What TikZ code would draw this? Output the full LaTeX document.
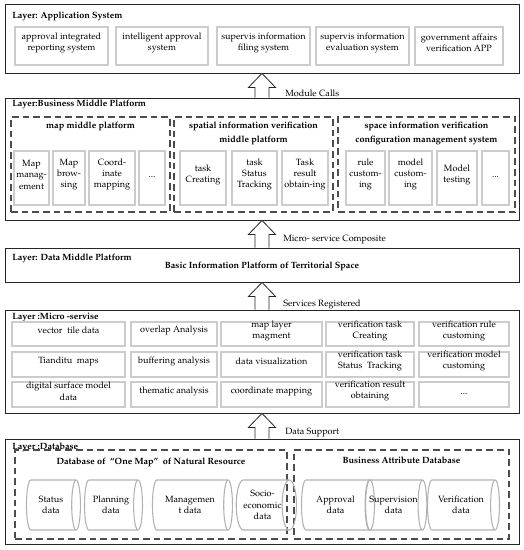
\documentclass[tikz,border=0pt]{standalone}
\usepackage[T1]{fontenc}
\usepackage{mathpazo}
\usetikzlibrary{fit,calc,shapes.geometric}
\begin{document}
\begin{tikzpicture}[x=0.75pt,y=-0.75pt,
  font=\fontsize{6.8}{8.4}\selectfont,
  layer/.style={draw=black!85, line width=0.6pt, inner sep=0pt},
  ibox/.style={draw=black!20, line width=0.9pt, inner sep=0pt, align=center},
  dbox/.style={draw=black!70, line width=0.8pt, dash pattern=on 5pt off 3pt, inner sep=0pt},
  ttl/.style={font=\fontsize{6.8}{8.4}\selectfont\bfseries, anchor=west, inner sep=0pt},
  sub/.style={font=\fontsize{6.8}{10.2}\selectfont\bfseries, align=center, anchor=north, inner sep=0pt},
  cyl/.style={cylinder, draw=black!30, line width=0.8pt, aspect=0.5, inner sep=0pt, align=center, minimum width=37.5pt},
  lbl/.style={anchor=west, inner sep=0pt},
  arr/.style={draw=black!85, line width=0.6pt, fill=white}]
\useasboundingbox (0,0) rectangle (524,550);

% ---------- Layer 1 ----------
\node[layer, fit={(5,4)(519,73)}] (L1) {};
\node[ttl] (T1) at (12,16) {Layer: Application System};
\node[ibox, fit={(15,27)(108,65)}] (a1) {approval integrated\\reporting system};
\node[ibox, fit={(116,27)(208,65)}] (a2) {intelligent approval\\system};
\node[ibox, fit={(217,27)(310,65)}] (a3) {supervis information\\filing system};
\node[ibox, fit={(316,27)(409,65)}] (a4) {supervis information\\evaluation system};
\node[ibox, fit={(415,27)(503,65)}] (a5) {government affairs\\verification APP};

% ---------- Layer 2 ----------
\node[layer, fit={(5,98)(519,220)}] (L2) {};
\node[ttl] (T2) at (12,104) {Layer:Business Middle Platform};
\node[dbox, fit={(11,117)(170,212)}] (D1) {};
\node[dbox, fit={(174,117)(333,212)}] (D2) {};
\node[dbox, fit={(338,117)(515,212)}] (D3) {};
\node[sub] (S1) at (90.5,122) {map middle platform};
\node[sub] (S2) at (253.5,122) {spatial information verification\\middle platform};
\node[sub] (S3) at (426.5,122) {space information verification\\configuration management system};
\node[ibox, fit={(14,151)(49,205)}] (b1) {Map\\manag-\\ement};
\node[ibox, fit={(53,151)(85,205)}] (b2) {Map\\brow-\\sing};
\node[ibox, fit={(89,151)(135,205)}] (b3) {Coord-\\inate\\mapping};
\node[ibox, fit={(139,151)(165,205)}] (b4) {...};
\node[ibox, fit={(180,151)(226,205)}] (b5) {task\\Creating};
\node[ibox, fit={(232,151)(277,205)}] (b6) {task\\Status\\Tracking};
\node[ibox, fit={(282,151)(328,205)}] (b7) {Task\\result\\obtain-ing};
\node[ibox, fit={(346,151)(385,205)}] (b8) {rule\\custom-\\ing};
\node[ibox, fit={(389,151)(432,205)}] (b9) {model\\custom-\\ing};
\node[ibox, fit={(437,151)(477,205)}] (b10) {Model\\testing};
\node[ibox, fit={(482,151)(509,205)}] (b11) {...};

% ---------- Layer 3 ----------
\node[layer, fit={(5,248)(519,282)}] (L3) {};
\node[ttl] (T3) at (12,258) {Layer: Data Middle Platform};
\node[font=\fontsize{6.8}{8.4}\selectfont\bfseries, inner sep=0pt] (P3) at (262,266) {Basic Information Platform of Territorial Space};

% ---------- Layer 4 ----------
\node[layer, fit={(5,310)(519,413)}] (L4) {};
\node[ttl] (T4) at (12,317) {Layer :Micro -servise};
\node[ibox, fit={(12,322)(125,346)}] (m11) {vector~ tile data};
\node[ibox, fit={(131,322)(217,346)}] (m12) {overlap Analysis};
\node[ibox, fit={(221,322)(322,346)}] (m13) {map layer\\magment};
\node[ibox, fit={(326,322)(414,346)}] (m14) {verification task\\Creating};
\node[ibox, fit={(419,322)(509,346)}] (m15) {verification rule\\customing};
\node[ibox, fit={(12,352)(125,377)}] (m21) {Tianditu~ maps};
\node[ibox, fit={(131,352)(217,377)}] (m22) {buffering analysis};
\node[ibox, fit={(221,352)(322,377)}] (m23) {data visualization};
\node[ibox, fit={(326,352)(414,377)}] (m24) {verification task\\Status~ Tracking};
\node[ibox, fit={(419,352)(509,377)}] (m25) {verification model\\customing};
\node[ibox, fit={(12,382)(125,407)}] (m31) {digital surface model\\data};
\node[ibox, fit={(131,382)(217,407)}] (m32) {thematic analysis};
\node[ibox, fit={(221,382)(322,407)}] (m33) {coordinate mapping};
\node[ibox, fit={(326,382)(414,407)}] (m34) {verification result\\obtaining};
\node[ibox, fit={(419,382)(509,407)}] (m35) {...};

% ---------- Layer 5 ----------
\node[layer, fit={(5,439)(519,544)}] (L5) {};
\node[ttl] (T5) at (12,447) {Layer :Database};
\node[dbox, fit={(15,450)(287,539)}] (D4) {};
\node[dbox, fit={(294,450)(509,539)}] (D5) {};
\node[sub] (S4) at (151,458) {Database of \ ``One Map'' \ of Natural Resource};
\node[sub] (S5) at (401.5,457) {Business Attribute Database};
\node[cyl, minimum height=40.5pt] (c1) at (51,505) {Status\\data};
\node[cyl, minimum height=43.5pt] (c2) at (111,505) {Planning\\data};
\node[cyl, minimum height=60pt] (c3) at (190,505) {Managemen\\t data};
\node[cyl, minimum height=31pt] (c4) at (262.5,505) {Socio-\\economic\\data};
\node[cyl, minimum height=54.75pt] (c5) at (335.5,505) {Approval\\data};
\node[cyl, minimum height=42.75pt] (c6) at (393.5,505) {Supervision\\data};
\node[cyl, minimum height=54pt] (c7) at (461,505) {Verification\\data};

% ---------- Block arrows ----------
\foreach \lo/\up in {L2/L1, L3/L2, L4/L3, L5/L4}{
  \draw[arr] ($(\lo.north)+(-7,0)$) -- ($(\up.south)+(-7,14)$) -- ($(\up.south)+(-13.5,14)$)
    -- (\up.south) -- ($(\up.south)+(13.5,14)$) -- ($(\up.south)+(7,14)$) -- ($(\lo.north)+(7,0)$);
}
\node[lbl] (n1) at (285,93) {Module Calls};
\node[lbl] (n2) at (283,240) {Micro- service Composite};
\node[lbl] (n3) at (283,304) {Services Registered};
\node[lbl] (n4) at (285,433) {Data Support};
\end{tikzpicture}
\end{document}
